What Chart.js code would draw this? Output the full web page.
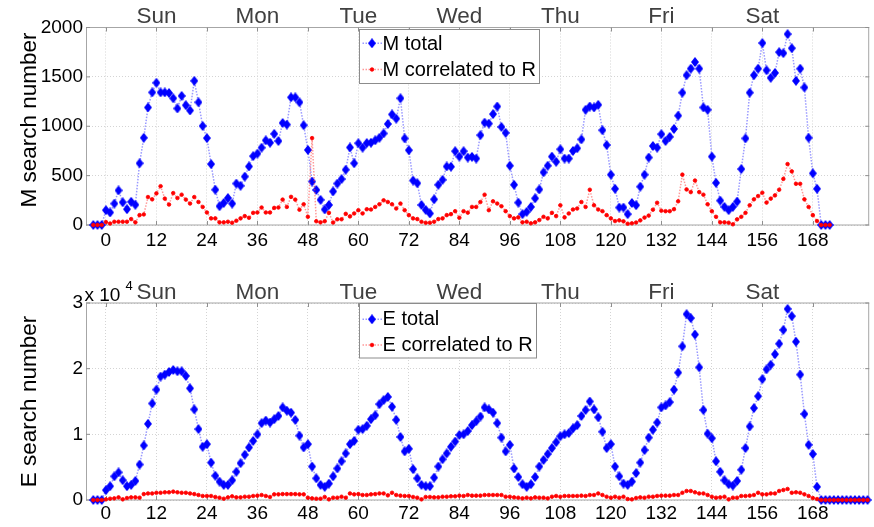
<!DOCTYPE html>
<html><head><meta charset="utf-8">
<script src="https://cdn.jsdelivr.net/npm/chart.js@4.4.1/dist/chart.umd.min.js"></script>
<style>html,body{margin:0;padding:0;background:#fff;}#wrap{width:874px;height:527px;overflow:hidden;}canvas{display:block;}</style>
</head><body><div id="wrap"><canvas id="cTop" width="874" height="263"></canvas><canvas id="cBot" width="874" height="264"></canvas></div>
<script>
// ---------- data ----------
const hourTicks = [0,12,24,36,48,60,72,84,96,108,120,132,144,156,168];
const dayNames = ['Sun','Mon','Tue','Wed','Thu','Fri','Sat'];
const dayCenters = [12,36,60,84,108,132,156];
const startHour = -3;

const mTotal = [0,0,0,
150,127,217,350,230,160,235,205,625,883,
1190,1343,1440,1343,1343,1337,1283,1180,1307,1213,
1160,1460,1243,1003,880,617,357,190,223,273,
217,420,397,490,593,697,723,783,857,833,
923,850,1033,1017,1293,1293,1243,1010,760,440,
355,255,157,203,340,420,465,560,785,625,
828,783,830,833,857,883,927,1023,1120,1077,
1283,877,757,450,423,203,153,117,260,407,
457,593,590,747,693,747,683,690,673,910,
1037,1027,1123,1200,993,933,600,407,227,110,
133,183,270,360,533,600,693,640,767,673,
673,750,777,867,1167,1200,1190,1217,960,810,
510,367,177,177,110,223,200,388,510,683,
800,783,920,850,893,973,1107,1340,1517,1583,
1650,1583,1190,1167,693,427,247,183,150,183,
237,567,877,1340,1517,1583,1843,1567,1490,1540,
1750,1740,1933,1790,1460,1583,1393,883,523,367,
0,0,0];

const mCorr = [0,0,0,
30,15,33,33,33,33,60,27,100,107,
283,260,320,393,267,207,323,273,307,257,
217,283,233,183,127,67,67,27,27,33,
23,43,67,90,73,123,127,177,127,127,
173,177,257,183,285,257,155,210,83,880,
38,27,38,123,25,58,58,113,87,117,
150,117,160,157,183,210,250,233,210,167,
217,150,100,67,60,33,23,23,33,60,
67,100,110,140,73,140,125,183,183,233,
307,150,240,217,190,140,90,67,77,27,
33,17,27,50,83,67,123,90,200,77,
117,157,167,233,183,357,200,157,140,100,
67,40,47,37,13,17,25,47,75,95,
155,225,145,140,140,160,240,510,360,333,
450,333,307,210,140,83,27,27,23,7,
57,83,123,200,260,293,327,227,267,300,
357,467,617,543,417,417,260,183,100,40,
0,0,0];

const eTotal = [0,0,0,
1500,2100,3600,4200,3000,2100,2300,2900,5400,8300,
11600,14700,16800,18800,19100,19500,19800,19600,19600,18900,
17000,13800,10800,8100,8500,5700,3700,2800,2300,2300,
3000,4300,5600,6900,8000,9000,10000,11700,12100,11800,
12300,12800,14100,13600,13300,12200,9800,8000,8500,5100,
3300,2300,2000,2500,3600,4800,5900,7100,8500,9000,
10700,10800,11300,12300,12900,14600,15200,15700,14200,12200,
9600,7400,7800,4700,3300,2300,2100,2100,3400,5100,
6200,7100,8100,8900,9900,10000,10500,11400,12000,12700,
14100,13800,13300,11700,9500,7400,8400,4800,3500,2400,
2000,2400,3500,5100,6100,7000,7900,8800,9700,10000,
10200,10900,11400,12800,13700,15000,13800,12600,10400,7900,
8500,5100,3600,2500,2300,2800,4100,5700,7600,9500,
10700,11800,14100,14400,14900,16800,19400,23400,28300,27700,
25200,20200,13700,10100,9400,5900,4300,3000,2400,2200,
2900,4600,7900,11200,14000,15800,18400,19900,20600,22200,
23800,25900,29100,28000,24100,19100,13100,8400,7000,2000,
0,0,0,0,0,0,0,0,0,0,0,0];

const eCorr = [0,0,0,
100,200,250,400,100,300,400,400,350,900,
1000,1000,1100,1100,1170,1170,1270,1170,1100,1100,
1000,900,760,610,610,610,460,350,200,400,
560,400,400,500,500,610,660,760,610,460,
860,860,900,900,900,900,860,860,350,250,
200,200,460,100,350,350,500,350,1000,860,
900,760,760,860,900,1000,1000,710,1100,760,
660,610,610,460,350,100,460,460,400,400,
500,500,560,560,660,610,760,660,660,660,
760,760,760,760,760,500,500,400,350,250,
350,250,400,350,350,250,500,610,500,610,
610,610,610,660,610,760,760,1000,760,500,
350,500,350,500,150,100,300,400,350,500,
500,610,660,660,660,760,760,1100,1370,1370,
1170,1000,1000,760,500,350,400,500,100,350,
350,610,610,660,760,1100,860,860,1000,1000,
1370,1520,1680,1100,1170,1100,860,610,300,150,
0,0,0,0,0,0,0,0,0,0,0,0];

// ---------- rendering ----------
const FONT = '"Liberation Sans", Arial, Helvetica, sans-serif';
Chart.defaults.font.family = FONT;
Chart.defaults.color = '#000';
const X_MIN = -4.73, X_MAX = 181.4;

const toPts = arr => arr.map((v, i) => ({x: startHour + i, y: v}));

function diamondCanvas(w, h, color) {
  const c = document.createElement('canvas');
  c.width = w; c.height = h;
  const g = c.getContext('2d');
  g.fillStyle = color;
  g.beginPath(); g.moveTo(w / 2, 0); g.lineTo(w, h / 2); g.lineTo(w / 2, h); g.lineTo(0, h / 2); g.closePath(); g.fill();
  return c;
}
const blueDiamond = diamondCanvas(8, 10, '#0000ff');

const blueStyle = {borderColor:'rgba(70,70,255,0.55)', borderWidth:1.5, borderDash:[1.5,1.5],
  pointStyle: blueDiamond, pointRadius:4, pointBackgroundColor:'#0000ff', pointBorderColor:'#0000ff', pointBorderWidth:0};
const redStyle = {borderColor:'rgba(255,70,70,0.55)', borderWidth:1.5, borderDash:[1.5,1.5],
  pointStyle:'circle', pointRadius:1.8, pointBackgroundColor:'#ff0000', pointBorderColor:'#ff0000', pointBorderWidth:0.8};

const framePlugin = {
  id: 'frame',
  beforeDatasetsDraw(chart) {
    const {ctx, chartArea: a} = chart;
    ctx.save();
    ctx.strokeStyle = '#a6a6a6'; ctx.lineWidth = 1;
    ctx.strokeRect(a.left + 0.5, a.top, a.right - a.left - 1, a.bottom - a.top);
    ctx.strokeStyle = '#8f8f8f';
    const xs = chart.scales.x, ys = chart.scales.y;
    hourTicks.forEach(h => {
      const px = Math.round(xs.getPixelForValue(h)) + 0.5;
      ctx.beginPath(); ctx.moveTo(px, a.bottom); ctx.lineTo(px, a.bottom - 4);
      ctx.moveTo(px, a.top); ctx.lineTo(px, a.top + 4); ctx.stroke();
    });
    ys.ticks.forEach(t => {
      const py = ys.getPixelForValue(t.value);
      ctx.beginPath(); ctx.moveTo(a.left, py); ctx.lineTo(a.left + 4, py);
      ctx.moveTo(a.right, py); ctx.lineTo(a.right - 4, py); ctx.stroke();
    });
    ctx.restore();
  }
};

const boxLegendPlugin = {
  id: 'boxLegend',
  afterDraw(chart, args, o) {
    if (!o || !o.box) return;
    const ctx = chart.ctx;
    const [x1, y1, x2, y2] = o.box;
    ctx.save();
    ctx.fillStyle = '#fff'; ctx.fillRect(x1, y1, x2 - x1, y2 - y1);
    ctx.strokeStyle = '#8c8c8c'; ctx.lineWidth = 1;
    ctx.strokeRect(x1 + 0.5, y1 + 0.5, x2 - x1, y2 - y1);
    chart.data.datasets.forEach((ds, i) => {
      const y = o.rowY[i];
      ctx.strokeStyle = ds.borderColor; ctx.lineWidth = ds.borderWidth; ctx.setLineDash(ds.borderDash || []);
      ctx.beginPath(); ctx.moveTo(o.lineX[0], y); ctx.lineTo(o.lineX[1], y); ctx.stroke();
      ctx.setLineDash([]);
      ctx.fillStyle = ds.pointBackgroundColor; ctx.strokeStyle = ds.pointBorderColor; ctx.lineWidth = ds.pointBorderWidth;
      Chart.helpers.drawPoint(ctx, {pointStyle: ds.pointStyle, radius: ds.pointRadius, borderWidth: ds.pointBorderWidth, rotation: 0}, o.markerX, y);
      ctx.fillStyle = '#000'; ctx.font = '20px ' + FONT; ctx.textAlign = 'left'; ctx.textBaseline = 'alphabetic';
      ctx.fillText(ds.label, o.textX, o.baseY[i]);
    });
    ctx.restore();
  }
};

const exponentPlugin = {
  id: 'exponent',
  afterDraw(chart, args, o) {
    if (!o || !o.text) return;
    const ctx = chart.ctx;
    ctx.save();
    ctx.fillStyle = '#000'; ctx.textAlign = 'left'; ctx.textBaseline = 'alphabetic';
    ctx.font = '19px ' + FONT; ctx.fillText(o.text, o.x, o.y);
    ctx.font = '13px ' + FONT; ctx.fillText(o.sup, o.supX, o.supY);
    ctx.restore();
  }
};

function makeChart(id, cfg) {
  const canvas = document.getElementById(id);
  const H = canvas.height;
  return new Chart(canvas, {
    type: 'line',
    data: {
      datasets: [
        Object.assign({label: cfg.labels[0], data: toPts(cfg.total), order: 1, clip: false, tension: 0}, blueStyle),
        Object.assign({label: cfg.labels[1], data: toPts(cfg.corr), order: 0, clip: false, tension: 0}, redStyle)
      ]
    },
    options: {
      responsive: false, animation: false, events: [], devicePixelRatio: 1,
      layout: {padding: {left: 0, right: 1, top: 0, bottom: 0}},
      plugins: {
        legend: {display: false}, tooltip: {enabled: false},
        boxLegend: cfg.legend,
        exponent: cfg.exponent || {}
      },
      scales: {
        x: {
          type: 'linear', position: 'bottom', min: X_MIN, max: X_MAX,
          afterBuildTicks: s => { s.ticks = hourTicks.map(v => ({value: v})); },
          afterFit: s => { s.height = H - cfg.areaBottom; },
          ticks: {autoSkip: false, maxRotation: 0, minRotation: 0, padding: cfg.xPad,
            font: {size: 19, lineHeight: 1}, color: '#000', callback: v => String(v)},
          grid: {display: true, color: '#d4d4d4', lineWidth: 1, drawTicks: false},
          border: {display: false, dash: [1, 2]}
        },
        xDays: {
          type: 'linear', position: 'top', min: X_MIN, max: X_MAX,
          afterBuildTicks: s => { s.ticks = dayCenters.map(v => ({value: v})); },
          afterFit: s => { s.height = cfg.areaTop; },
          ticks: {autoSkip: false, maxRotation: 0, minRotation: 0, padding: cfg.dayPad,
            font: {size: 22.5, lineHeight: 1}, color: '#404040',
            callback: (v, i) => dayNames[i]},
          grid: {display: false, drawTicks: false},
          border: {display: false}
        },
        y: {
          type: 'linear', position: 'left', min: 0, max: cfg.yMax,
          afterBuildTicks: s => { s.ticks = cfg.yTicks.map(v => ({value: v})); },
          afterFit: s => { s.width = 86; },
          ticks: {padding: 3, font: {size: 19, lineHeight: 1}, color: '#000', callback: cfg.yFmt},
          grid: {display: true, color: '#d4d4d4', lineWidth: 1, drawTicks: false},
          border: {display: false, dash: [1, 2]},
          title: {display: true, text: cfg.yTitle, font: {size: 22.5, lineHeight: 1}, color: '#000',
            padding: {top: 18.75, bottom: 0}}
        }
      }
    },
    plugins: [framePlugin, boxLegendPlugin, exponentPlugin]
  });
}

const mTicks = [0, 500, 1000, 1500, 2000];
const eTicks = [0, 10000, 20000, 30000];

makeChart('cTop', {
  labels: ['M total', 'M correlated to R'], total: mTotal, corr: mCorr,
  areaTop: 27.5, areaBottom: 225, xPad: 6, dayPad: -1,
  yMax: 2000, yTicks: mTicks, yFmt: v => String(v), yTitle: '  M search number',
  legend: {box: [359, 29, 539, 83], rowY: [43.3, 69.5], baseY: [49.5, 76.2], lineX: [362.5, 382], markerX: 372, textX: 382.5}
});

makeChart('cBot', {
  labels: ['E total', 'E correlated to R'], total: eTotal, corr: eCorr,
  areaTop: 40, areaBottom: 237, xPad: 4, dayPad: -1,
  yMax: 30000, yTicks: eTicks, yFmt: v => String(v / 10000), yTitle: 'E search number',
  legend: {box: [359, 40, 536, 94.5], rowY: [56.3, 82], baseY: [62.2, 88], lineX: [362.5, 382], markerX: 372, textX: 382.5},
  exponent: {text: 'x 10', x: 84.5, y: 37.7, sup: '4', supX: 125.5, supY: 27}
});
</script></body></html>
